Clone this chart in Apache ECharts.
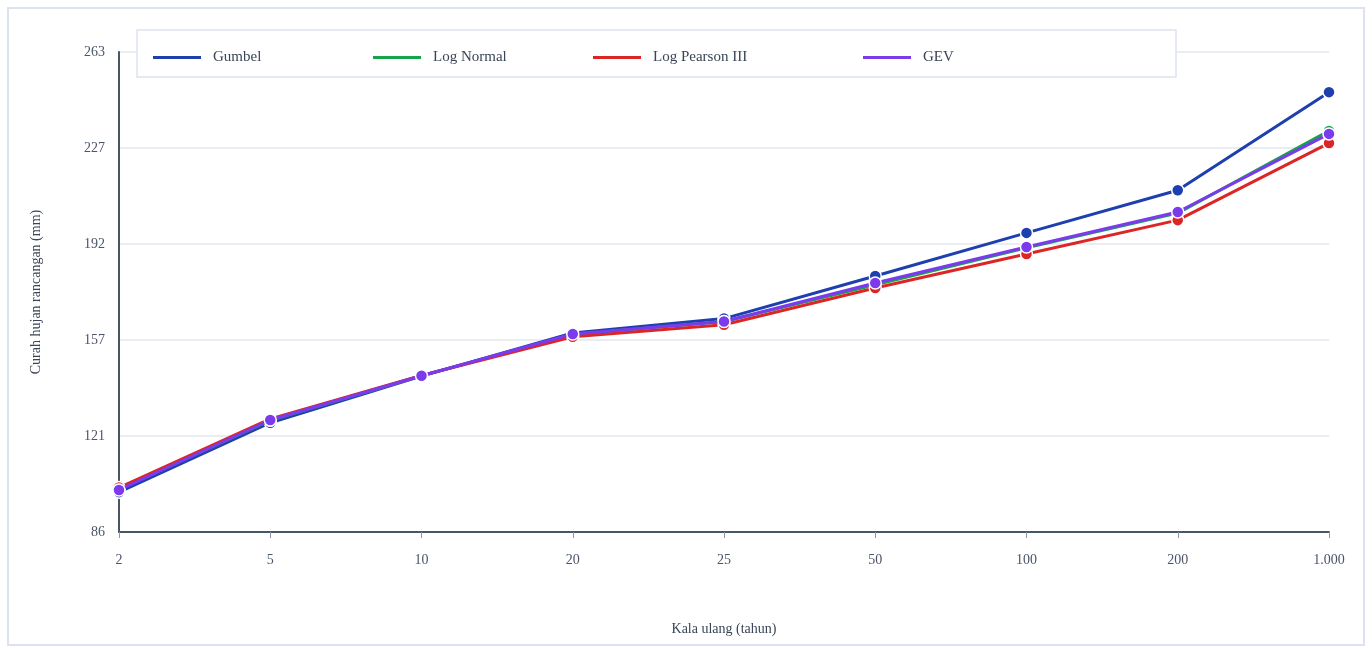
<!DOCTYPE html>
<html><head><meta charset="utf-8">
<script src="https://cdn.jsdelivr.net/npm/echarts@6/dist/echarts.min.js"></script>
<style>html,body{margin:0;padding:0;background:#fff}#c{width:1372px;height:648px}</style>
</head><body><div id="c"></div>
<script>
const categories = ['2','5','10','20','25','50','100','200','1.000'];
const yTicks = [86,121,157,192,227,263];
const gumbel = [100.7,126.3,143.5,159.4,164.7,180.4,196.3,212.0,248.2];
const logNormal = [101.8,127.2,143.6,158.8,163.6,177.2,190.8,203.6,233.9];
const logPearson = [102.4,127.7,143.7,158.0,162.4,176.0,188.5,201.0,229.4];
const gev = [101.5,127.3,143.6,159.0,163.6,177.8,191.1,204.0,232.8];
const names = ['Gumbel','Log Normal','Log Pearson III','GEV'];
const colors = ['#1e40af','#16a34a','#dc2626','#7c3aed'];
const seriesData = [gumbel, logNormal, logPearson, gev];
const legendLeft = [153, 373, 593, 863];
const font = '"Liberation Serif", "Times New Roman", serif';

const chart = echarts.init(document.getElementById('c'));
chart.setOption({
  animation:false,
  color:colors,
  textStyle:{fontFamily:font},
  graphic:[
    {type:'rect',shape:{x:8,y:8,width:1356,height:637},style:{fill:'none',stroke:'#dde3ee',lineWidth:2},z:-1},
    {type:'rect',shape:{x:137,y:30,width:1039,height:47},style:{fill:'#fff',stroke:'#dde3ee',lineWidth:1.5},z:5}
  ],
  legend: names.map((n,i)=>({
    data:[{name:n,icon:'rect',itemStyle:{color:colors[i],borderWidth:0}}],
    left:legendLeft[i], top:50, padding:0, itemWidth:48, itemHeight:3, z:10,
    textStyle:{fontFamily:font,fontSize:15,color:'#3a4456',padding:[0,0,0,7]}
  })),
  grid:{left:119,right:43,top:52,bottom:116},
  xAxis:{type:'category',data:categories,boundaryGap:false,
    name:'Kala ulang (tahun)',nameLocation:'middle',nameGap:90,
    nameTextStyle:{fontFamily:font,fontSize:14,color:'#3a4456'},
    axisLine:{lineStyle:{color:'#4a5568',width:2}},
    axisTick:{show:true,length:6,lineStyle:{color:'#8a94a6'}},
    axisLabel:{fontFamily:font,fontSize:14,color:'#4a5568',margin:21},
    splitLine:{show:false}},
  yAxis:{type:'value',min:86,max:263,interval:35.4,
    name:'Curah hujan rancangan (mm)',nameLocation:'middle',nameGap:76,nameRotate:90,
    nameTextStyle:{fontFamily:font,fontSize:14,color:'#3a4456'},
    axisLine:{show:true,lineStyle:{color:'#4a5568',width:2}},
    axisTick:{show:false},
    axisLabel:{fontFamily:font,fontSize:14,color:'#4a5568',margin:14,
      formatter:(v)=>String(yTicks[Math.round((v-86)/35.4)])},
    splitLine:{lineStyle:{color:'#e2e6ee',width:1.5}}},
  series: names.map((n,i)=>({
    name:n,type:'line',data:seriesData[i],color:colors[i],
    symbol:'circle',symbolSize:12,showSymbol:true,
    lineStyle:{color:colors[i],width:3},
    itemStyle:{color:colors[i],borderColor:'#fff',borderWidth:1.5},
    z:2+i
  }))
});
</script></body></html>
